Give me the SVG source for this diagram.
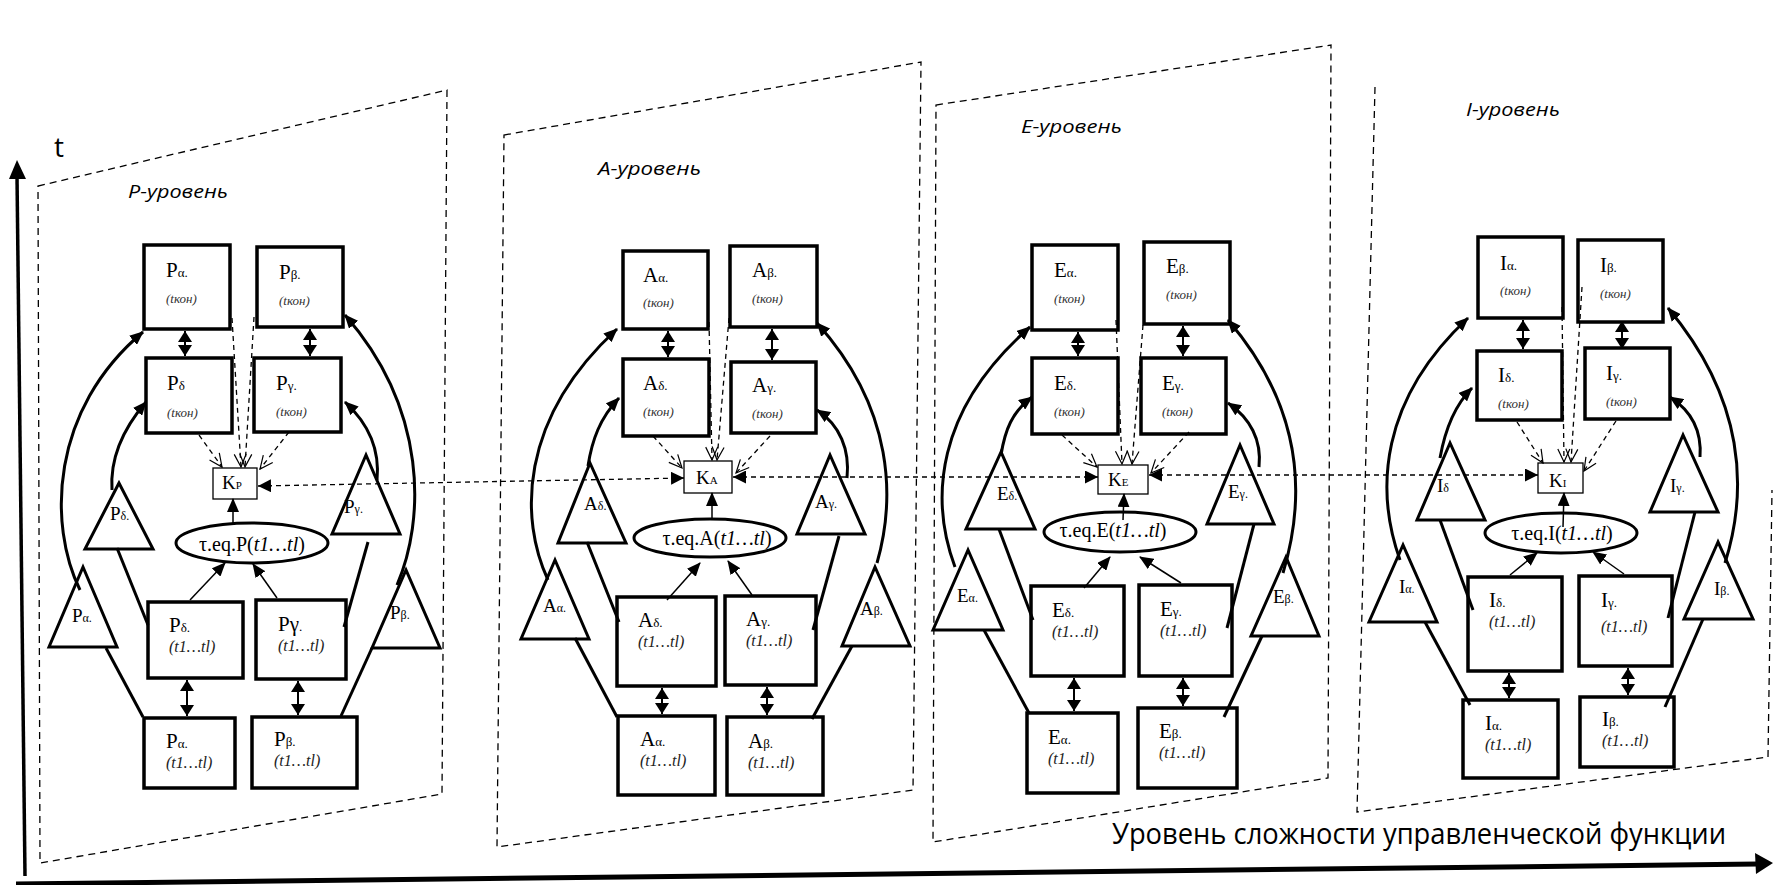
<svg xmlns="http://www.w3.org/2000/svg" width="1773" height="885" viewBox="0 0 1773 885">
<style>
.panel{fill:none;stroke:#000;stroke-width:1.3;stroke-dasharray:7 5}
.box{fill:#fff;stroke:#000;stroke-width:3.5}
.tri{fill:#fff;stroke:#000;stroke-width:3;stroke-linejoin:miter}
.kb{fill:#fff;stroke:#000;stroke-width:1.3}
.ell{fill:#fff;stroke:#000;stroke-width:3}
.cv{fill:none;stroke:#000;stroke-width:3}
.th{fill:none;stroke:#000;stroke-width:1.5}
.dbl{fill:none;stroke:#000;stroke-width:2}
.dsh{fill:none;stroke:#000;stroke-width:1.3;stroke-dasharray:5 4}
.lbl{font-family:"Liberation Serif",serif;font-size:21px;fill:#000}
.sub{font-size:13px}
.tk{font-family:"Liberation Serif",serif;font-style:italic;font-size:13px;fill:#333}
.tt{font-family:"Liberation Serif",serif;font-style:italic;font-size:16px;fill:#222}
.trl{font-family:"Liberation Serif",serif;font-size:19px;fill:#000}
.tsub{font-size:12px}
.eq{font-family:"Liberation Serif",serif;font-size:20px;fill:#000;text-anchor:middle}
.it{font-style:italic}
.kl{font-family:"Liberation Serif",serif;font-size:19px;fill:#000}
.ksub{font-size:11px}
.lev{font-family:"Open Sans","Liberation Sans",sans-serif;font-style:italic;font-size:18px;fill:#000}
.ax{font-family:"Open Sans","Liberation Sans",sans-serif;fill:#000}
</style>
<defs>
<marker id="arr" viewBox="0 0 14 12" refX="13" refY="6" markerWidth="14" markerHeight="12" orient="auto" markerUnits="userSpaceOnUse"><path d="M0,0 L14,6 L0,12 z" fill="#000"/></marker>
<marker id="dh" viewBox="0 0 11 14" refX="11" refY="7" markerWidth="11" markerHeight="14" orient="auto-start-reverse" markerUnits="userSpaceOnUse"><path d="M0,0 L11,7 L0,14 z" fill="#000"/></marker>
<marker id="kh" viewBox="0 0 13 13" refX="13" refY="6.5" markerWidth="13" markerHeight="13" orient="auto-start-reverse" markerUnits="userSpaceOnUse"><path d="M0,0 L13,6.5 L0,13 z" fill="#000"/></marker>
<marker id="ov" viewBox="-1 -1 15 14" refX="13" refY="6" markerWidth="15" markerHeight="14" orient="auto" markerUnits="userSpaceOnUse"><path d="M0,0 L13,6 L0,12" fill="none" stroke="#000" stroke-width="1.2"/></marker>
</defs>

<g id="axes">
<line x1="17" y1="176" x2="25" y2="876" stroke="#000" stroke-width="3.5"/>
<polygon points="17,160 9,179 26,179" fill="#000"/>
<line x1="16" y1="884" x2="1758" y2="864" stroke="#000" stroke-width="5"/>
<polygon points="1773,863 1755,853 1756,874" fill="#000"/>
<text class="ax" x="54" y="157" font-size="28">t</text>
<text class="ax" x="1112" y="844" font-size="30" textLength="614" lengthAdjust="spacingAndGlyphs">Уровень сложности управленческой функции</text>
</g>

<g id="panels">
<path class="panel" d="M38,186 L447,90 L442,794 L40,863 Z"/>
<path class="panel" d="M504,135 L921,62 L913,790 L497,847 Z"/>
<path class="panel" d="M936,105 L1331,45 L1328,778 L933,842 Z"/>
<path class="panel" d="M1375,87 L1357,812 L1768,757 L1772,490"/>
<text class="lev" x="128" y="198" textLength="100" lengthAdjust="spacingAndGlyphs">P-уровень</text>
<text class="lev" x="598" y="175" textLength="103" lengthAdjust="spacingAndGlyphs">A-уровень</text>
<text class="lev" x="1021" y="133" textLength="101" lengthAdjust="spacingAndGlyphs">E-уровень</text>
<text class="lev" x="1466" y="116" textLength="94" lengthAdjust="spacingAndGlyphs">I-уровень</text>
</g>

<!-- ===== P level ===== -->
<g id="P-alpha-kon"><rect class="box" x="144" y="245" width="86" height="84"/><text class="lbl" x="166" y="277">P<tspan class="sub">α.</tspan></text><text class="tk" x="166" y="303">(tкон)</text></g>
<g id="P-beta-kon"><rect class="box" x="257" y="247" width="86" height="80"/><text class="lbl" x="279" y="279">P<tspan class="sub">β.</tspan></text><text class="tk" x="279" y="305">(tкон)</text></g>
<g id="P-delta-kon"><rect class="box" x="146" y="358" width="86" height="75"/><text class="lbl" x="167" y="390">P<tspan class="sub">δ</tspan></text><text class="tk" x="167" y="417">(tкон)</text></g>
<g id="P-gamma-kon"><rect class="box" x="254" y="358" width="87" height="74"/><text class="lbl" x="276" y="390">P<tspan class="sub">γ.</tspan></text><text class="tk" x="276" y="416">(tкон)</text></g>
<g id="P-delta-t"><rect class="box" x="148" y="602" width="95" height="76"/><text class="lbl" x="169" y="632">P<tspan class="sub">δ.</tspan></text><text class="tt" x="169" y="652">(t1…tl)</text></g>
<g id="P-gamma-t"><rect class="box" x="256" y="600" width="90" height="79"/><text class="lbl" x="278" y="631">Pγ<tspan class="sub">.</tspan></text><text class="tt" x="278" y="651">(t1…tl)</text></g>
<g id="P-alpha-t"><rect class="box" x="144" y="718" width="91" height="70"/><text class="lbl" x="166" y="748">P<tspan class="sub">α.</tspan></text><text class="tt" x="166" y="768">(t1…tl)</text></g>
<g id="P-beta-t"><rect class="box" x="252" y="717" width="105" height="71"/><text class="lbl" x="274" y="746">P<tspan class="sub">β.</tspan></text><text class="tt" x="274" y="766">(t1…tl)</text></g>
<g id="P-K"><rect class="kb" x="213" y="468" width="44" height="31"/><text class="kl" x="222" y="489">K<tspan class="ksub">P</tspan></text></g>
<g id="P-eq"><ellipse class="ell" cx="252" cy="543" rx="76" ry="20"/><text class="eq" x="252" y="551">τ.eq.P(<tspan class="it">t1…tl</tspan>)</text></g>
<g id="P-tri-delta"><polygon class="tri" points="119,483 85,549 153,549"/><text class="trl" x="110" y="520">P<tspan class="tsub">δ.</tspan></text></g>
<g id="P-tri-gamma"><polygon class="tri" points="366,455 332,534 400,534"/><text class="trl" x="344" y="513">P<tspan class="tsub">γ.</tspan></text></g>
<g id="P-tri-alpha"><polygon class="tri" points="83,567 49,647 117,647"/><text class="trl" x="72" y="622">P<tspan class="tsub">α.</tspan></text></g>
<g id="P-tri-beta"><polygon class="tri" points="406,570 372,648 440,648"/><text class="trl" x="390" y="619">P<tspan class="tsub">β.</tspan></text></g>

<!-- ===== A level ===== -->
<g id="A-alpha-kon"><rect class="box" x="623" y="251" width="85" height="78"/><text class="lbl" x="643" y="282">A<tspan class="sub">α.</tspan></text><text class="tk" x="643" y="307">(tкон)</text></g>
<g id="A-beta-kon"><rect class="box" x="730" y="246" width="87" height="81"/><text class="lbl" x="752" y="277">A<tspan class="sub">β.</tspan></text><text class="tk" x="752" y="303">(tкон)</text></g>
<g id="A-delta-kon"><rect class="box" x="623" y="359" width="86" height="77"/><text class="lbl" x="643" y="390">A<tspan class="sub">δ.</tspan></text><text class="tk" x="643" y="416">(tкон)</text></g>
<g id="A-gamma-kon"><rect class="box" x="731" y="362" width="85" height="71"/><text class="lbl" x="752" y="392">A<tspan class="sub">γ.</tspan></text><text class="tk" x="752" y="418">(tкон)</text></g>
<g id="A-delta-t"><rect class="box" x="617" y="597" width="99" height="89"/><text class="lbl" x="638" y="627">A<tspan class="sub">δ.</tspan></text><text class="tt" x="638" y="647">(t1…tl)</text></g>
<g id="A-gamma-t"><rect class="box" x="725" y="596" width="91" height="89"/><text class="lbl" x="746" y="626">A<tspan class="sub">γ.</tspan></text><text class="tt" x="746" y="646">(t1…tl)</text></g>
<g id="A-alpha-t"><rect class="box" x="618" y="716" width="97" height="79"/><text class="lbl" x="640" y="746">A<tspan class="sub">α.</tspan></text><text class="tt" x="640" y="766">(t1…tl)</text></g>
<g id="A-beta-t"><rect class="box" x="727" y="717" width="96" height="78"/><text class="lbl" x="748" y="748">A<tspan class="sub">β.</tspan></text><text class="tt" x="748" y="768">(t1…tl)</text></g>
<g id="A-K"><rect class="kb" x="684" y="461" width="48" height="32"/><text class="kl" x="696" y="484">K<tspan class="ksub">A</tspan></text></g>
<g id="A-eq"><ellipse class="ell" cx="710" cy="538" rx="76" ry="19"/><text class="eq" x="717" y="545">τ.eq.A(<tspan class="it">t1…tl</tspan>)</text></g>
<g id="A-tri-delta"><polygon class="tri" points="590,463 558,543 626,543"/><text class="trl" x="584" y="510">A<tspan class="tsub">δ.</tspan></text></g>
<g id="A-tri-gamma"><polygon class="tri" points="830,455 797,534 865,534"/><text class="trl" x="815" y="508">A<tspan class="tsub">γ.</tspan></text></g>
<g id="A-tri-alpha"><polygon class="tri" points="555,560 521,639 589,639"/><text class="trl" x="543" y="612">A<tspan class="tsub">α.</tspan></text></g>
<g id="A-tri-beta"><polygon class="tri" points="875,567 842,646 910,646"/><text class="trl" x="860" y="615">A<tspan class="tsub">β.</tspan></text></g>

<!-- ===== E level ===== -->
<g id="E-alpha-kon"><rect class="box" x="1032" y="245" width="86" height="85"/><text class="lbl" x="1054" y="277">E<tspan class="sub">α.</tspan></text><text class="tk" x="1054" y="303">(tкон)</text></g>
<g id="E-beta-kon"><rect class="box" x="1144" y="242" width="86" height="82"/><text class="lbl" x="1166" y="273">E<tspan class="sub">β.</tspan></text><text class="tk" x="1166" y="299">(tкон)</text></g>
<g id="E-delta-kon"><rect class="box" x="1032" y="358" width="86" height="76"/><text class="lbl" x="1054" y="390">E<tspan class="sub">δ.</tspan></text><text class="tk" x="1054" y="416">(tкон)</text></g>
<g id="E-gamma-kon"><rect class="box" x="1141" y="358" width="85" height="76"/><text class="lbl" x="1162" y="390">E<tspan class="sub">γ.</tspan></text><text class="tk" x="1162" y="416">(tкон)</text></g>
<g id="E-delta-t"><rect class="box" x="1031" y="586" width="93" height="90"/><text class="lbl" x="1052" y="617">E<tspan class="sub">δ.</tspan></text><text class="tt" x="1052" y="637">(t1…tl)</text></g>
<g id="E-gamma-t"><rect class="box" x="1139" y="585" width="93" height="91"/><text class="lbl" x="1160" y="616">E<tspan class="sub">γ.</tspan></text><text class="tt" x="1160" y="636">(t1…tl)</text></g>
<g id="E-alpha-t"><rect class="box" x="1027" y="713" width="91" height="80"/><text class="lbl" x="1048" y="744">E<tspan class="sub">α.</tspan></text><text class="tt" x="1048" y="764">(t1…tl)</text></g>
<g id="E-beta-t"><rect class="box" x="1138" y="708" width="99" height="80"/><text class="lbl" x="1159" y="738">E<tspan class="sub">β.</tspan></text><text class="tt" x="1159" y="758">(t1…tl)</text></g>
<g id="E-K"><rect class="kb" x="1098" y="465" width="50" height="29"/><text class="kl" x="1108" y="486">K<tspan class="ksub">E</tspan></text></g>
<g id="E-eq"><ellipse class="ell" cx="1120" cy="532" rx="76" ry="20"/><text class="eq" x="1113" y="537">τ.eq.E(<tspan class="it">t1…tl</tspan>)</text></g>
<g id="E-tri-delta"><polygon class="tri" points="1001,452 966,529 1035,529"/><text class="trl" x="997" y="500">E<tspan class="tsub">δ.</tspan></text></g>
<g id="E-tri-gamma"><polygon class="tri" points="1240,445 1207,524 1274,524"/><text class="trl" x="1228" y="498">E<tspan class="tsub">γ.</tspan></text></g>
<g id="E-tri-alpha"><polygon class="tri" points="968,550 933,630 1003,630"/><text class="trl" x="957" y="602">E<tspan class="tsub">α.</tspan></text></g>
<g id="E-tri-beta"><polygon class="tri" points="1286,557 1251,636 1319,636"/><text class="trl" x="1273" y="603">E<tspan class="tsub">β.</tspan></text></g>

<!-- ===== I level ===== -->
<g id="I-alpha-kon"><rect class="box" x="1478" y="237" width="85" height="81"/><text class="lbl" x="1500" y="270">I<tspan class="sub">α.</tspan></text><text class="tk" x="1500" y="295">(tкон)</text></g>
<g id="I-beta-kon"><rect class="box" x="1578" y="240" width="85" height="82"/><text class="lbl" x="1600" y="272">I<tspan class="sub">β.</tspan></text><text class="tk" x="1600" y="298">(tкон)</text></g>
<g id="I-delta-kon"><rect class="box" x="1477" y="351" width="85" height="69"/><text class="lbl" x="1498" y="382">I<tspan class="sub">δ.</tspan></text><text class="tk" x="1498" y="408">(tкон)</text></g>
<g id="I-gamma-kon"><rect class="box" x="1585" y="348" width="85" height="71"/><text class="lbl" x="1606" y="380">I<tspan class="sub">γ.</tspan></text><text class="tk" x="1606" y="406">(tкон)</text></g>
<g id="I-delta-t"><rect class="box" x="1468" y="577" width="94" height="94"/><text class="lbl" x="1489" y="607">I<tspan class="sub">δ.</tspan></text><text class="tt" x="1489" y="627">(t1…tl)</text></g>
<g id="I-gamma-t"><rect class="box" x="1579" y="576" width="93" height="90"/><text class="lbl" x="1601" y="607">I<tspan class="sub">γ.</tspan></text><text class="tt" x="1601" y="632">(t1…tl)</text></g>
<g id="I-alpha-t"><rect class="box" x="1463" y="700" width="95" height="78"/><text class="lbl" x="1485" y="730">I<tspan class="sub">α.</tspan></text><text class="tt" x="1485" y="750">(t1…tl)</text></g>
<g id="I-beta-t"><rect class="box" x="1580" y="697" width="94" height="70"/><text class="lbl" x="1602" y="726">I<tspan class="sub">β.</tspan></text><text class="tt" x="1602" y="746">(t1…tl)</text></g>
<g id="I-K"><rect class="kb" x="1538" y="463" width="45" height="30"/><text class="kl" x="1549" y="487">K<tspan class="ksub">I</tspan></text></g>
<g id="I-eq"><ellipse class="ell" cx="1561" cy="533" rx="76" ry="20"/><text class="eq" x="1562" y="540">τ.eq.I(<tspan class="it">t1…tl</tspan>)</text></g>
<g id="I-tri-delta"><polygon class="tri" points="1450,443 1417,520 1485,520"/><text class="trl" x="1437" y="492">I<tspan class="tsub">δ</tspan></text></g>
<g id="I-tri-gamma"><polygon class="tri" points="1683,435 1650,512 1718,512"/><text class="trl" x="1670" y="492">I<tspan class="tsub">γ.</tspan></text></g>
<g id="I-tri-alpha"><polygon class="tri" points="1403,545 1369,622 1437,622"/><text class="trl" x="1399" y="593">I<tspan class="tsub">α.</tspan></text></g>
<g id="I-tri-beta"><polygon class="tri" points="1718,542 1684,619 1753,619"/><text class="trl" x="1714" y="595">I<tspan class="tsub">β.</tspan></text></g>

<g id="connectors">
<!-- P curves -->
<line class="cv" x1="143" y1="717" x2="106" y2="648"/>
<path class="cv" d="M80,590 C48,525 50,410 143,332" marker-end="url(#arr)"/>
<line class="cv" x1="148" y1="625" x2="117" y2="548"/>
<path class="cv" d="M112,490 C110,460 122,430 146,402" marker-end="url(#arr)"/>
<line class="cv" x1="344" y1="627" x2="368" y2="542"/>
<path class="cv" d="M377,480 C380,450 370,425 345,402" marker-end="url(#arr)"/>
<line class="cv" x1="341" y1="716" x2="372" y2="648"/>
<path class="cv" d="M397,585 C425,520 428,410 345,315" marker-end="url(#arr)"/>
<!-- A curves -->
<line class="cv" x1="617" y1="717" x2="575" y2="638"/>
<path class="cv" d="M548,580 C520,520 518,420 617,329" marker-end="url(#arr)"/>
<line class="cv" x1="619" y1="622" x2="587" y2="542"/>
<path class="cv" d="M588,466 C592,440 600,418 619,398" marker-end="url(#arr)"/>
<line class="cv" x1="813" y1="630" x2="839" y2="536"/>
<path class="cv" d="M847,478 C850,450 840,425 817,410" marker-end="url(#arr)"/>
<line class="cv" x1="812" y1="719" x2="852" y2="646"/>
<path class="cv" d="M877,563 C895,500 895,410 817,323" marker-end="url(#arr)"/>
<!-- E curves -->
<line class="cv" x1="1029" y1="713" x2="984" y2="630"/>
<path class="cv" d="M955,567 C930,500 935,410 1030,327" marker-end="url(#arr)"/>
<line class="cv" x1="1033" y1="620" x2="999" y2="529"/>
<path class="cv" d="M1001,455 C1005,430 1012,412 1032,397" marker-end="url(#arr)"/>
<line class="cv" x1="1227" y1="628" x2="1254" y2="524"/>
<path class="cv" d="M1259,467 C1262,440 1250,418 1228,403" marker-end="url(#arr)"/>
<line class="cv" x1="1224" y1="717" x2="1262" y2="636"/>
<path class="cv" d="M1283,573 C1305,500 1305,410 1228,320" marker-end="url(#arr)"/>
<!-- I curves -->
<line class="cv" x1="1470" y1="705" x2="1425" y2="622"/>
<path class="cv" d="M1400,560 C1375,490 1380,400 1468,318" marker-end="url(#arr)"/>
<line class="cv" x1="1473" y1="610" x2="1440" y2="520"/>
<path class="cv" d="M1440,458 C1445,430 1455,405 1472,388" marker-end="url(#arr)"/>
<line class="cv" x1="1668" y1="618" x2="1695" y2="512"/>
<path class="cv" d="M1700,457 C1702,430 1690,410 1670,397" marker-end="url(#arr)"/>
<line class="cv" x1="1665" y1="707" x2="1703" y2="619"/>
<path class="cv" d="M1725,563 C1748,490 1745,400 1668,308" marker-end="url(#arr)"/>

<!-- double thick arrows -->
<line class="dbl" x1="185" y1="331" x2="185" y2="356" marker-start="url(#dh)" marker-end="url(#dh)"/>
<line class="dbl" x1="310" y1="329" x2="310" y2="356" marker-start="url(#dh)" marker-end="url(#dh)"/>
<line class="dbl" x1="187" y1="680" x2="187" y2="716" marker-start="url(#dh)" marker-end="url(#dh)"/>
<line class="dbl" x1="298" y1="681" x2="298" y2="715" marker-start="url(#dh)" marker-end="url(#dh)"/>
<line class="dbl" x1="668" y1="331" x2="668" y2="357" marker-start="url(#dh)" marker-end="url(#dh)"/>
<line class="dbl" x1="772" y1="329" x2="772" y2="360" marker-start="url(#dh)" marker-end="url(#dh)"/>
<line class="dbl" x1="662" y1="688" x2="662" y2="714" marker-start="url(#dh)" marker-end="url(#dh)"/>
<line class="dbl" x1="767" y1="687" x2="767" y2="715" marker-start="url(#dh)" marker-end="url(#dh)"/>
<line class="dbl" x1="1078" y1="332" x2="1078" y2="356" marker-start="url(#dh)" marker-end="url(#dh)"/>
<line class="dbl" x1="1183" y1="326" x2="1183" y2="356" marker-start="url(#dh)" marker-end="url(#dh)"/>
<line class="dbl" x1="1074" y1="678" x2="1074" y2="711" marker-start="url(#dh)" marker-end="url(#dh)"/>
<line class="dbl" x1="1183" y1="678" x2="1183" y2="706" marker-start="url(#dh)" marker-end="url(#dh)"/>
<line class="dbl" x1="1523" y1="320" x2="1523" y2="349" marker-start="url(#dh)" marker-end="url(#dh)"/>
<line class="dbl" x1="1622" y1="321" x2="1622" y2="349" marker-start="url(#dh)" marker-end="url(#dh)"/>
<line class="dbl" x1="1509" y1="673" x2="1509" y2="698" marker-start="url(#dh)" marker-end="url(#dh)"/>
<line class="dbl" x1="1628" y1="668" x2="1628" y2="695" marker-start="url(#dh)" marker-end="url(#dh)"/>

<!-- thin arrows to ellipses and to K -->
<line class="th" x1="190" y1="600" x2="225" y2="563" marker-end="url(#arr)"/>
<line class="th" x1="277" y1="598" x2="253" y2="564" marker-end="url(#arr)"/>
<line class="th" x1="233" y1="523" x2="233" y2="499" marker-end="url(#arr)"/>
<line class="th" x1="667" y1="600" x2="700" y2="563" marker-end="url(#arr)"/>
<line class="th" x1="752" y1="595" x2="728" y2="561" marker-end="url(#arr)"/>
<line class="th" x1="712" y1="519" x2="712" y2="493" marker-end="url(#arr)"/>
<line class="th" x1="1084" y1="588" x2="1110" y2="557" marker-end="url(#arr)"/>
<line class="th" x1="1181" y1="583" x2="1140" y2="557" marker-end="url(#arr)"/>
<line class="th" x1="1123" y1="520" x2="1124" y2="494" marker-end="url(#arr)"/>
<line class="th" x1="1510" y1="575" x2="1537" y2="553" marker-end="url(#arr)"/>
<line class="th" x1="1624" y1="574" x2="1593" y2="552" marker-end="url(#arr)"/>
<line class="th" x1="1563" y1="527" x2="1564" y2="493" marker-end="url(#arr)"/>

<!-- dashed arrows into K boxes -->
<line class="dsh" x1="199" y1="435" x2="222" y2="467" marker-end="url(#ov)"/>
<line class="dsh" x1="232" y1="318" x2="241" y2="467" marker-end="url(#ov)"/>
<line class="dsh" x1="254" y1="317" x2="245" y2="467" marker-end="url(#ov)"/>
<line class="dsh" x1="289" y1="432" x2="260" y2="469" marker-end="url(#ov)"/>
<line class="dsh" x1="653" y1="436" x2="682" y2="468" marker-end="url(#ov)"/>
<line class="dsh" x1="709" y1="322" x2="712" y2="460" marker-end="url(#ov)"/>
<line class="dsh" x1="729" y1="318" x2="717" y2="460" marker-end="url(#ov)"/>
<line class="dsh" x1="770" y1="436" x2="736" y2="473" marker-end="url(#ov)"/>
<line class="dsh" x1="1062" y1="435" x2="1097" y2="467" marker-end="url(#ov)"/>
<line class="dsh" x1="1116" y1="320" x2="1122" y2="464" marker-end="url(#ov)"/>
<line class="dsh" x1="1143" y1="325" x2="1132" y2="464" marker-end="url(#ov)"/>
<line class="dsh" x1="1189" y1="432" x2="1151" y2="473" marker-end="url(#ov)"/>
<line class="dsh" x1="1517" y1="422" x2="1543" y2="463" marker-end="url(#ov)"/>
<line class="dsh" x1="1562" y1="307" x2="1564" y2="462" marker-end="url(#ov)"/>
<line class="dsh" x1="1582" y1="287" x2="1571" y2="462" marker-end="url(#ov)"/>
<line class="dsh" x1="1616" y1="421" x2="1584" y2="471" marker-end="url(#ov)"/>

<!-- dashed double arrows between K boxes -->
<line class="dsh" x1="258" y1="486" x2="684" y2="478" marker-start="url(#kh)" marker-end="url(#kh)"/>
<line class="dsh" x1="733" y1="477" x2="1098" y2="477" marker-start="url(#kh)" marker-end="url(#kh)"/>
<line class="dsh" x1="1149" y1="475" x2="1538" y2="475" marker-start="url(#kh)" marker-end="url(#kh)"/>
</g>
</svg>
